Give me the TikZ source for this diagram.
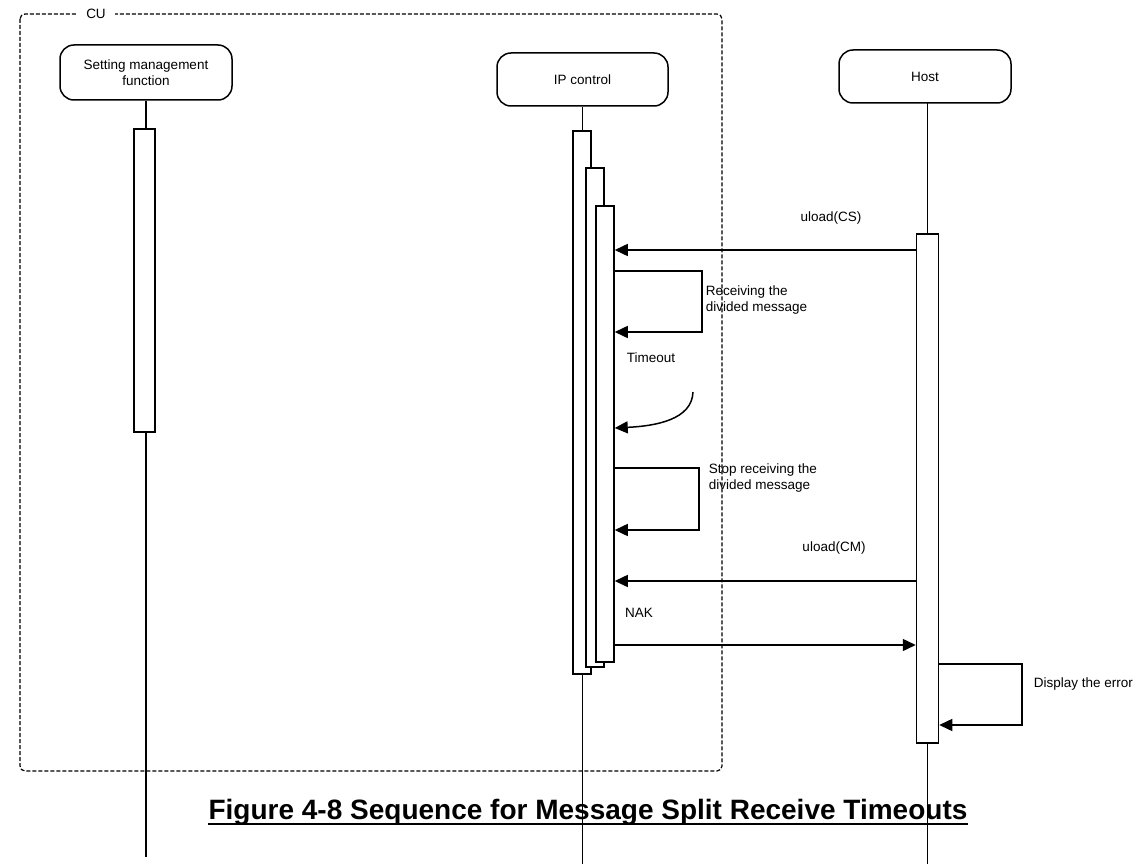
\documentclass[tikz,border=0pt]{standalone}
\usepackage{fontspec}
\setmainfont{Liberation Sans}
\usetikzlibrary{arrows.meta}
\begin{document}
\begin{tikzpicture}[x=1pt,y=-1pt,line width=1.5pt,
        every node/.style={font=\fontsize{13.5}{16}\selectfont},
        head/.style={draw,rounded corners=14,align=center,minimum width=172,minimum height=54},
        actbar/.style={draw,fill=white,minimum width=18,inner sep=0pt},
        msg/.style={-{Triangle[length=13pt,width=12pt]}},
        lbl/.style={anchor=west,align=left,inner sep=0pt}]
        \useasboundingbox (0,0) rectangle (1141,864);
        \draw [dash pattern=on 4pt off 2pt,line width=1.2pt,rounded corners=5] (20,14) rectangle (722,771);
        \node [fill=white,inner xsep=9pt,inner ysep=1pt] (cu) at (96,14) {CU};
        \node [head,minimum width=172,minimum height=55] (smf) at (146,72.5) {Setting management\\function};
        \node [head,minimum width=171,minimum height=53] (ipctl) at (582.5,79.5) {IP control};
        \node [head,minimum width=172,minimum height=53] (host) at (925,76.5) {Host};
        \coordinate (bot) at (0,857);
        \coordinate (botb) at (0,864);
        \draw (smf.south) -- (smf.south |- bot);
        \draw (ipctl.south) -- (ipctl.south |- botb);
        \draw (927.5,103) -- (927.5,864);
        \node [actbar,minimum width=21,minimum height=303] (smbar) at (144.5,280.5) {};
        \node [actbar,minimum height=543] (ipa) at (582,402.5) {};
        \node [actbar,minimum height=499] (ipb) at (595,417.5) {};
        \node [actbar,minimum height=456] (ipc) at (605,434) {};
        \node [actbar,minimum width=22,minimum height=509] (hbar) at (927.5,488.5) {};
        \coordinate (cs) at (0,250);
        \coordinate (rcvtop) at (702,271);
        \coordinate (rcvbot) at (702,332);
        \coordinate (tostart) at (693,392);
        \coordinate (toend) at (0,428);
        \coordinate (stoptop) at (699,468);
        \coordinate (stopbot) at (699,530);
        \coordinate (cm) at (0,581);
        \coordinate (nak) at (0,645);
        \coordinate (errtop) at (1022,664);
        \coordinate (errbot) at (1022,725);
        \draw [msg] (hbar.west |- cs) -- (ipc.east |- cs);
        \node (csl) at (831,218) {uload(CS)};
        \draw [msg] (ipc.east |- rcvtop) -- (rcvtop) -- (rcvbot) -- (ipc.east |- rcvbot);
        \node [lbl] (rcvl) at (705,300) {Receiving the\\divided message};
        \node (tol) at (651,358) {Timeout};
        \draw [msg] (tostart) .. controls (692,420) and (655,426) .. (ipc.east |- toend);
        \draw [msg] (ipc.east |- stoptop) -- (stoptop) -- (stopbot) -- (ipc.east |- stopbot);
        \node [lbl] (stopl) at (708,478) {Stop receiving the\\divided message};
        \draw [msg] (hbar.west |- cm) -- (ipc.east |- cm);
        \node (cml) at (834,548) {uload(CM)};
        \node (nakl) at (639,613) {NAK};
        \draw [msg] (ipc.east |- nak) -- (hbar.west |- nak);
        \draw [msg] (hbar.east |- errtop) -- (errtop) -- (errbot) -- (hbar.east |- errbot);
        \node [lbl] (errl) at (1033,684) {Display the error};
        \node [font=\bfseries\fontsize{28}{32}\selectfont,inner sep=0pt] (cap) at (588,812) {Figure 4-8 Sequence for Message Split Receive Timeouts};
        \draw [line width=2.5pt] ([yshift=-5pt]cap.base west) -- ([yshift=-5pt]cap.base east);
\end{tikzpicture}
\end{document}
